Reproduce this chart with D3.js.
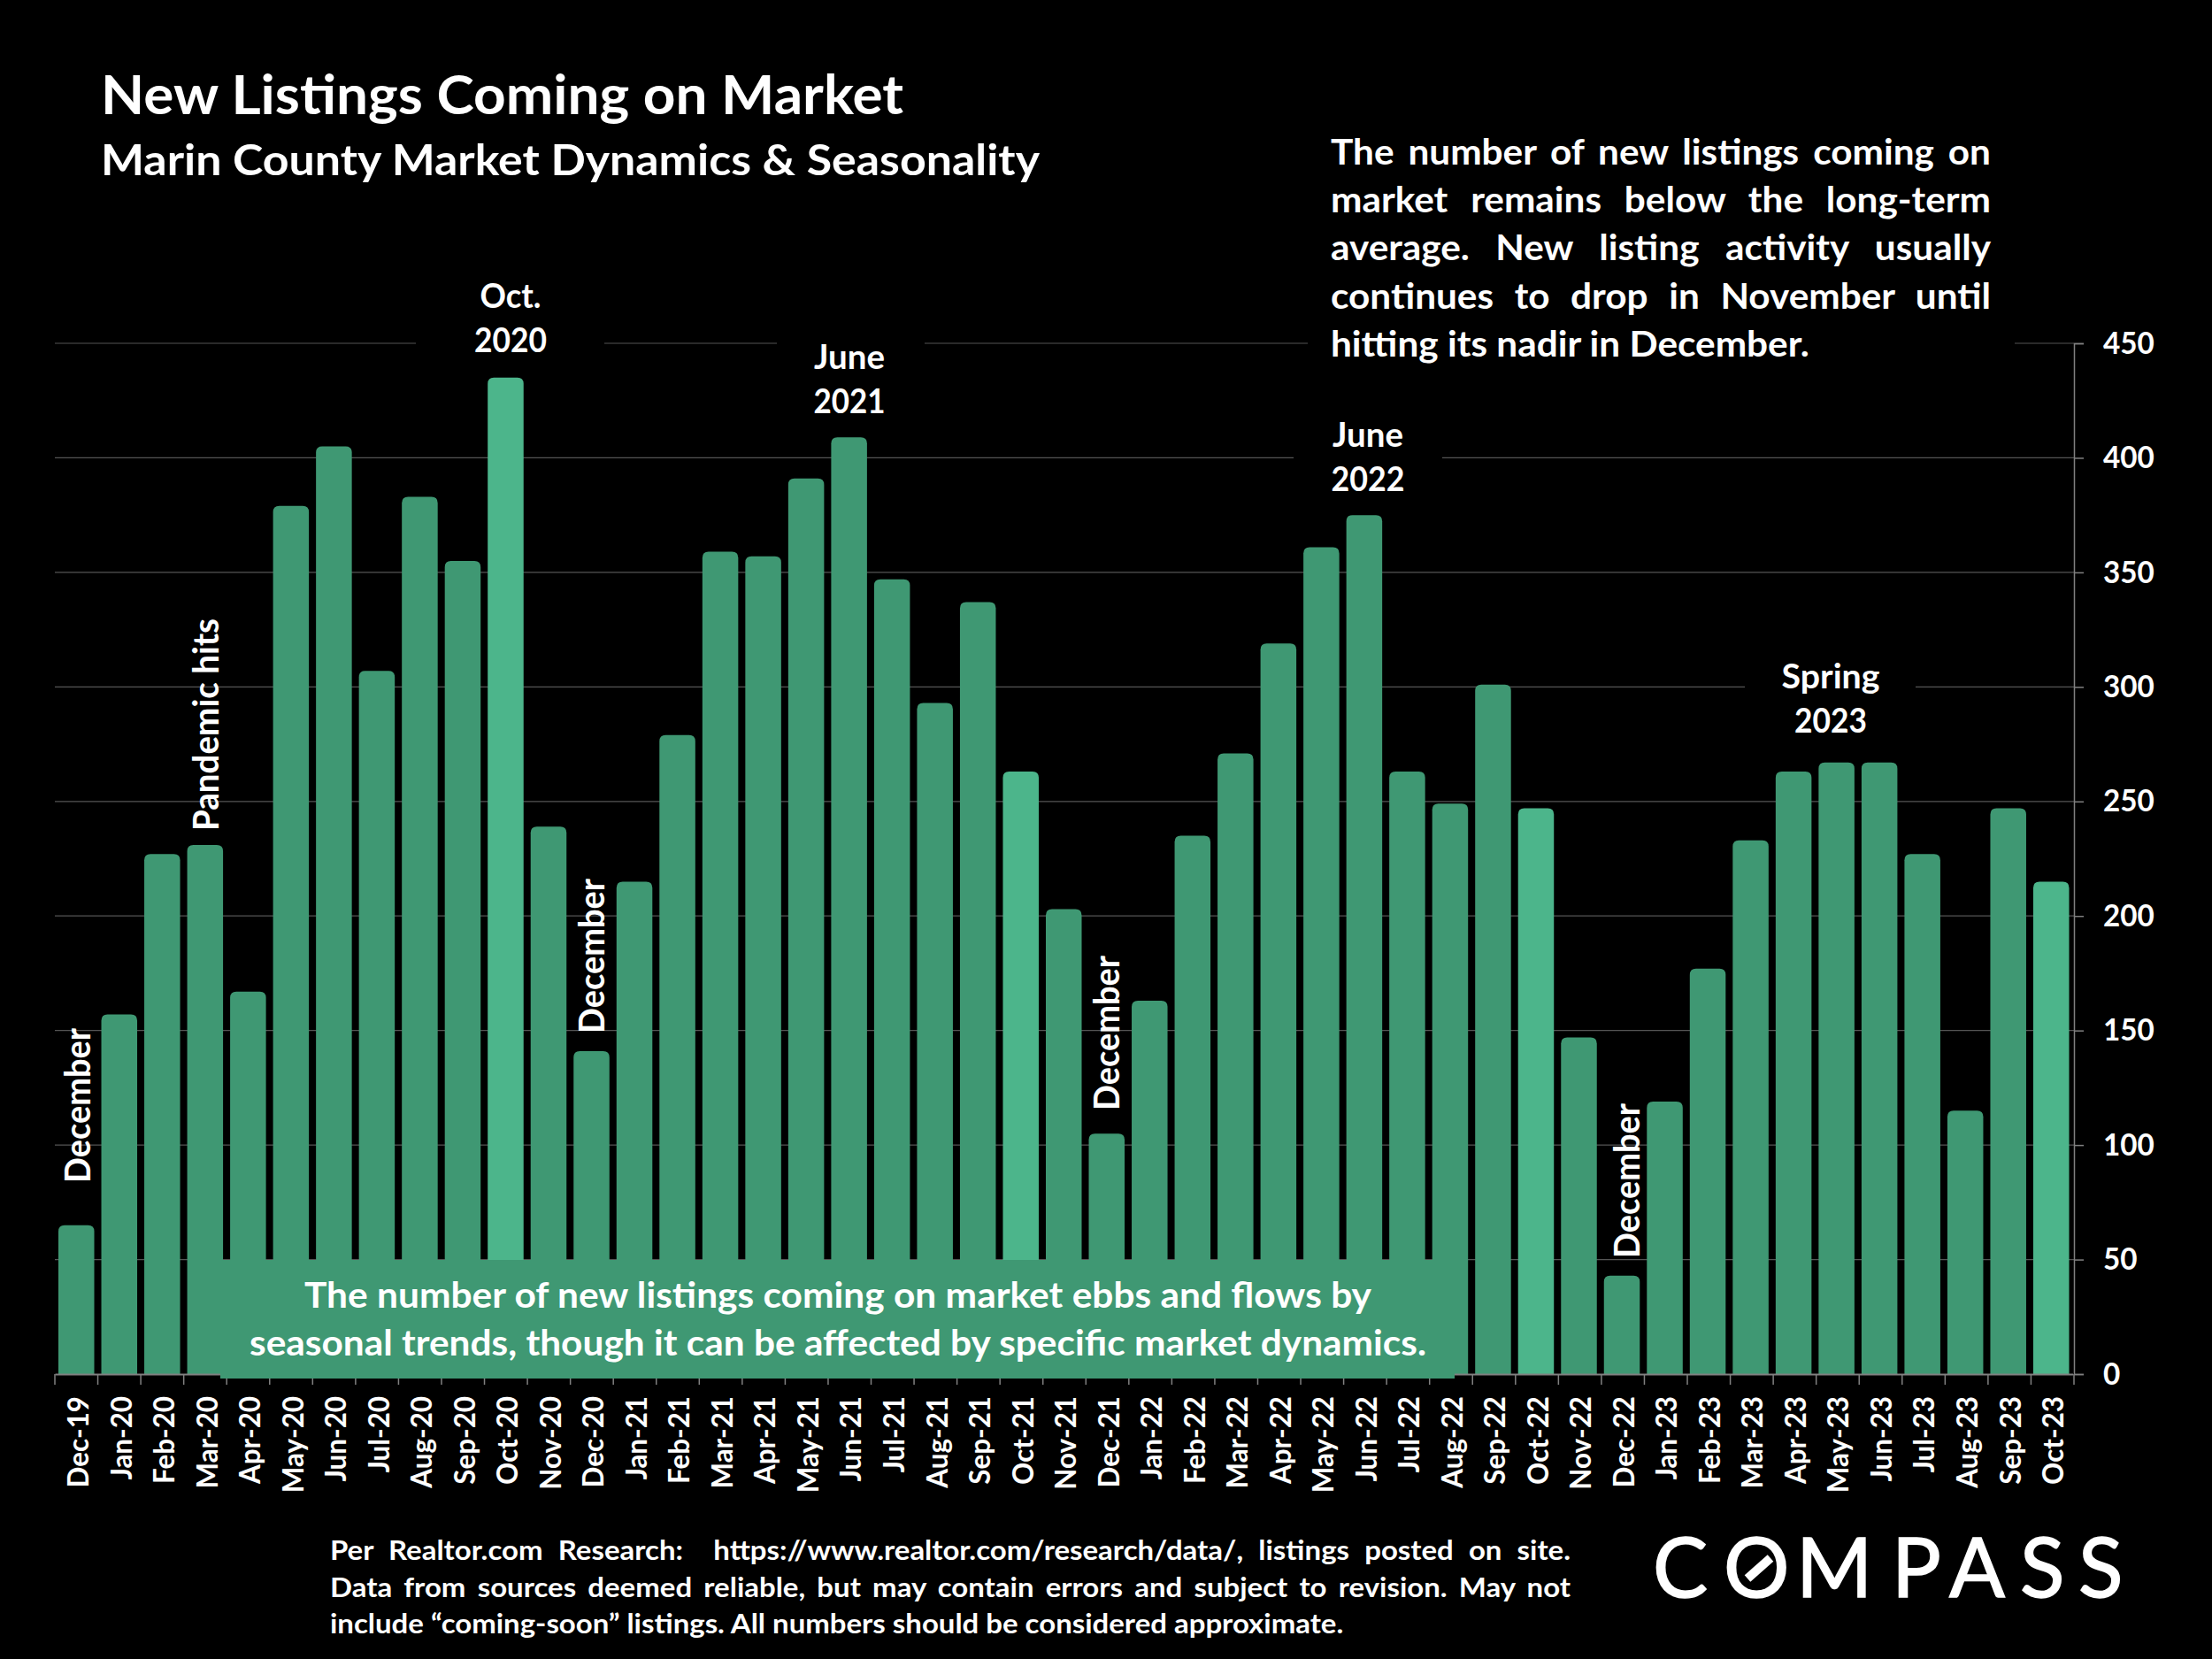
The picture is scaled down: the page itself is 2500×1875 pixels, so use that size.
<!DOCTYPE html>
<html>
<head>
<meta charset="utf-8">
<title>New Listings Coming on Market</title>
<script src="https://cdn.jsdelivr.net/npm/d3@7"></script>
<style>
  html, body { margin: 0; padding: 0; background: #000; }
  svg { display: block; }
  text { font-family: Lato, "Open Sans", sans-serif; font-weight: 700; fill: #fff; white-space: pre; }
</style>
</head>
<body>
<div id="stage"></div>
<script>
// values
var months = ["Dec-19","Jan-20","Feb-20","Mar-20","Apr-20","May-20","Jun-20","Jul-20","Aug-20","Sep-20","Oct-20","Nov-20",
  "Dec-20","Jan-21","Feb-21","Mar-21","Apr-21","May-21","Jun-21","Jul-21","Aug-21","Sep-21","Oct-21","Nov-21",
  "Dec-21","Jan-22","Feb-22","Mar-22","Apr-22","May-22","Jun-22","Jul-22","Aug-22","Sep-22","Oct-22","Nov-22",
  "Dec-22","Jan-23","Feb-23","Mar-23","Apr-23","May-23","Jun-23","Jul-23","Aug-23","Sep-23","Oct-23"];
var listings = [65,157,227,231,167,379,405,307,383,355,435,239,
  141,215,279,359,357,391,409,347,293,337,263,203,
  105,163,235,271,319,361,375,263,249,301,247,147,
  43,119,177,233,263,267,267,227,115,247,215];
var highlighted = ["Oct-20","Oct-21","Oct-22","Oct-23"];
var yTicks = [0,50,100,150,200,250,300,350,400,450];

var titleText = "New Listings Coming on Market";
var subtitleText = "Marin County Market Dynamics & Seasonality";
var noteLines = ["The number of new listings coming on",
  "market remains below the long-term",
  "average. New listing activity usually",
  "continues to drop in November until",
  "hitting its nadir in December."];
var boxLines = ["The number of new listings coming on market ebbs and flows by",
  "seasonal trends, though it can be affected by specific market dynamics."];
var footLines = ["Per Realtor.com Research:  https://www.realtor.com/research/data/, listings posted on site.",
  "Data from sources deemed reliable, but may contain errors and subject to revision. May not",
  "include \u201ccoming-soon\u201d listings. All numbers should be considered approximate."];

var W = 2500, H = 1875;
var plot = {left: 62, right: 2344, top: 388, bottom: 1553};
var barColor = "#3f9873", hiColor = "#4cb58b", gridColor = "#555555";

var svg = d3.select("#stage").append("svg").attr("width", W).attr("height", H);
svg.append("rect").attr("width", W).attr("height", H).attr("fill", "#000");

var x = d3.scaleBand().domain(months).range([plot.left, plot.right - 1.5]).paddingInner(0.165).paddingOuter(0.0825);
var y = d3.scaleLinear().domain([0, 450]).range([plot.bottom, plot.top]);

// gridlines
svg.append("g").selectAll("line").data(yTicks.slice(1)).enter().append("line")
  .attr("x1", plot.left).attr("x2", plot.right)
  .attr("y1", function(d){ return y(d); }).attr("y2", function(d){ return y(d); })
  .attr("stroke", gridColor).attr("stroke-width", 1.2);

// bars, rounded on top only
function barPath(m, v) {
  var r = 7, x0 = x(m), x1 = x0 + x.bandwidth(), t = y(v), b = y(0);
  return "M" + x0 + "," + b + "V" + (t + r) + "Q" + x0 + "," + t + " " + (x0 + r) + "," + t +
    "H" + (x1 - r) + "Q" + x1 + "," + t + " " + x1 + "," + (t + r) + "V" + b + "Z";
}
svg.append("g").selectAll("path").data(months).enter().append("path")
  .attr("d", function(m, i){ return barPath(m, listings[i]); })
  .attr("fill", function(m){ return highlighted.indexOf(m) >= 0 ? hiColor : barColor; });

// x axis, ticks sit between the bars
var xAxis = svg.append("g").attr("transform", "translate(0," + plot.bottom + ")")
  .call(d3.axisBottom(x).tickSize(0).tickPadding(0));
xAxis.select(".domain").attr("stroke", "#808080").attr("stroke-width", 2);
xAxis.selectAll("text")
  .attr("dy", null)
  .attr("y", 0)
  .attr("x", 0)
  .attr("text-anchor", "end")
  .attr("dominant-baseline", "central")
  .attr("transform", "translate(1,25) rotate(-90) scale(0.95,1)")
  .style("font-size", "33px")
  .style("font-family", "Lato");
var step = (plot.right - plot.left) / months.length;
svg.append("g").selectAll("line").data(months.concat(["end"])).enter().append("line")
  .attr("x1", function(m, i){ return plot.left + i * step; })
  .attr("x2", function(m, i){ return plot.left + i * step; })
  .attr("y1", plot.bottom).attr("y2", plot.bottom + 12)
  .attr("stroke", "#808080").attr("stroke-width", 1.5);

// y axis on the right
var yAxis = svg.append("g").attr("transform", "translate(" + plot.right + ",0)")
  .call(d3.axisRight(y).tickValues(yTicks).tickSize(11).tickPadding(22));
yAxis.select(".domain").attr("stroke", "#808080").attr("stroke-width", 1.5);
yAxis.selectAll("line").attr("stroke", "#808080").attr("stroke-width", 1.5);
yAxis.selectAll("text").style("font-size", "35px").style("font-family", "Lato")
  .attr("transform", "translate(33,0) scale(0.95,1) translate(-33,0)");

// black backing behind the annotations, cuts the gridlines
[[470, 320, 213, 90], [878, 375, 167, 105], [1478, 150, 799, 260], [1462, 470, 168, 95], [1972, 745, 193, 95]]
  .forEach(function(r) {
    svg.append("rect").attr("x", r[0]).attr("y", r[1]).attr("width", r[2]).attr("height", r[3]).attr("fill", "#000");
  });

// green text box over the bars
svg.append("rect").attr("x", 249).attr("y", 1424).attr("width", 1395).attr("height", 134).attr("fill", barColor);

function put(txt, px, py, size, len, anchor, rot) {
  var t = svg.append("text").text(txt)
    .attr("transform", "translate(" + px + "," + py + ")" + (rot ? " rotate(-90)" : ""))
    .attr("text-anchor", anchor || "start")
    .style("font-size", size + "px");
  if (len) t.attr("textLength", len).attr("lengthAdjust", "spacingAndGlyphs");
  return t;
}

put(titleText, 114, 129, 62, 907);
put(subtitleText, 114, 198, 47, 1061);

// justified block: last line sets the glyph squeeze, the others stretch their word gaps
function justified(lines, px, firstY, lineStep, size, width, lastWidth) {
  var probe = svg.append("text").style("font-size", size + "px").text(lines[lines.length - 1]);
  var sx = lastWidth / probe.node().getComputedTextLength();
  probe.remove();
  lines.forEach(function(line, i) {
    var t = svg.append("text").text(line)
      .attr("transform", "translate(" + px + "," + (firstY + i * lineStep) + ") scale(" + sx + ",1)")
      .style("font-size", size + "px");
    if (i < lines.length - 1) {
      var gaps = line.split(" ").length - 1;
      t.style("word-spacing", ((width / sx - t.node().getComputedTextLength()) / gaps) + "px");
    }
  });
}
justified(noteLines, 1504, 186, 54.2, 40, 746, 541);
justified(footLines, 373, 1763, 41.5, 30, 1402, 1146);

put(boxLines[0], 947, 1478, 40, 1206, "middle");
put(boxLines[1], 947, 1532, 40, 1330, "middle");

// callouts
put("Oct.", 577, 348, 39, 69, "middle");
put("2020", 577, 398, 39, 82, "middle");
put("June", 960, 417, 39, 80, "middle");
put("2021", 960, 467, 39, 81, "middle");
put("June", 1546, 505, 39, 80, "middle");
put("2022", 1546, 555, 39, 83, "middle");
put("Spring", 2069, 778, 39, 111, "middle");
put("2023", 2069, 828, 39, 82, "middle");

put("December", 102, 1337, 40, 175, "start", true);
put("December", 683, 1168, 40, 175, "start", true);
put("December", 1265, 1255, 40, 175, "start", true);
put("December", 1853, 1422, 40, 175, "start", true);
put("Pandemic hits", 247, 939, 40, 240, "start", true);

// logo
svg.append("text").text("COMPASS")
  .attr("x", "1868 1948 2030 2138 2203 2283 2349")
  .attr("y", 1805)
  .attr("stroke", "#fff").attr("stroke-width", 1.5)
  .style("font-size", "93px").style("font-weight", 400);
svg.append("line").attr("x1", 1975).attr("y1", 1784).attr("x2", 2001).attr("y2", 1761)
  .attr("stroke", "#fff").attr("stroke-width", 10);
</script>
</body>
</html>
